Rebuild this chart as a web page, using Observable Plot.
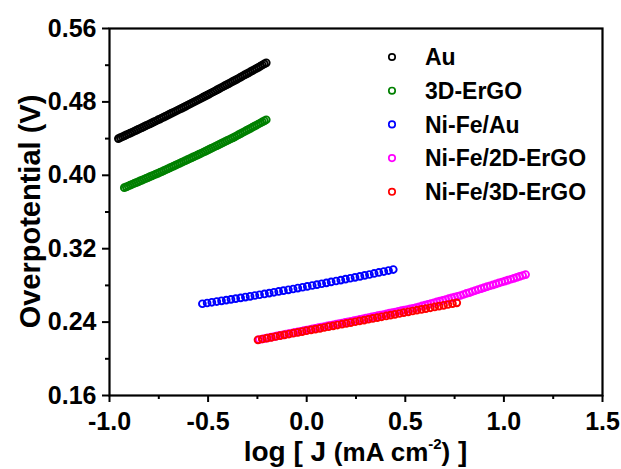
<!DOCTYPE html>
<html>
<head>
<meta charset="utf-8">
<script src="https://cdn.jsdelivr.net/npm/d3@7"></script>
<script src="https://cdn.jsdelivr.net/npm/@observablehq/plot@0.6"></script>
<style>
  html, body { margin: 0; padding: 0; background: #ffffff; }
  #chart { width: 621px; height: 469px; }
  #chart svg { display: block; }
</style>
</head>
<body>
<div id="chart"></div>
<script>
// ---------- data ----------
const seriesNames  = ["Au", "3D-ErGO", "Ni-Fe/Au", "Ni-Fe/2D-ErGO", "Ni-Fe/3D-ErGO"];
const seriesColors = ["#000000", "#008000", "#0000ff", "#ff00ff", "#ff0000"];

const auX = [-0.955,-0.945,-0.935,-0.925,-0.915,-0.905,-0.895,-0.885,-0.875,-0.865,
  -0.855,-0.845,-0.835,-0.825,-0.815,-0.805,-0.795,-0.785,-0.775,-0.765,
  -0.755,-0.745,-0.735,-0.725,-0.715,-0.705,-0.695,-0.685,-0.675,-0.665,
  -0.655,-0.645,-0.635,-0.625,-0.615,-0.605,-0.595,-0.585,-0.575,-0.565,
  -0.555,-0.545,-0.535,-0.525,-0.515,-0.505,-0.495,-0.485,-0.475,-0.465,
  -0.455,-0.445,-0.435,-0.425,-0.415,-0.405,-0.395,-0.385,-0.375,-0.365,
  -0.355,-0.345,-0.335,-0.325,-0.315,-0.305,-0.295,-0.285,-0.275,-0.265,
  -0.255,-0.245,-0.235,-0.225,-0.215,-0.205];
const auY = [0.4400,0.4410,0.4420,0.4430,0.4440,0.4450,0.4459,0.4469,0.4480,0.4490,
  0.4500,0.4510,0.4520,0.4530,0.4541,0.4551,0.4561,0.4571,0.4582,0.4592,
  0.4603,0.4613,0.4624,0.4634,0.4645,0.4655,0.4666,0.4677,0.4687,0.4698,
  0.4709,0.4720,0.4730,0.4741,0.4752,0.4763,0.4774,0.4785,0.4796,0.4807,
  0.4818,0.4829,0.4840,0.4852,0.4863,0.4874,0.4885,0.4897,0.4908,0.4919,
  0.4931,0.4942,0.4954,0.4965,0.4977,0.4988,0.5000,0.5011,0.5023,0.5035,
  0.5046,0.5058,0.5070,0.5082,0.5094,0.5105,0.5117,0.5129,0.5141,0.5153,
  0.5165,0.5177,0.5189,0.5202,0.5214,0.5226];

const ergoX = [-0.925,-0.915,-0.905,-0.895,-0.885,-0.875,-0.865,-0.855,-0.845,-0.835,
  -0.825,-0.815,-0.805,-0.795,-0.785,-0.775,-0.765,-0.755,-0.745,-0.735,
  -0.725,-0.715,-0.705,-0.695,-0.685,-0.675,-0.665,-0.655,-0.645,-0.635,
  -0.625,-0.615,-0.605,-0.595,-0.585,-0.575,-0.565,-0.555,-0.545,-0.535,
  -0.525,-0.515,-0.505,-0.495,-0.485,-0.475,-0.465,-0.455,-0.445,-0.435,
  -0.425,-0.415,-0.405,-0.395,-0.385,-0.375,-0.365,-0.355,-0.345,-0.335,
  -0.325,-0.315,-0.305,-0.295,-0.285,-0.275,-0.265,-0.255,-0.245,-0.235,
  -0.225,-0.215,-0.205];
const ergoY = [0.3865,0.3874,0.3883,0.3893,0.3902,0.3911,0.3920,0.3929,0.3939,0.3948,
  0.3957,0.3966,0.3975,0.3985,0.3994,0.4003,0.4012,0.4021,0.4031,0.4040,
  0.4050,0.4060,0.4070,0.4080,0.4090,0.4100,0.4110,0.4120,0.4130,0.4140,
  0.4150,0.4160,0.4170,0.4180,0.4190,0.4200,0.4210,0.4220,0.4230,0.4240,
  0.4251,0.4261,0.4272,0.4282,0.4293,0.4303,0.4314,0.4324,0.4335,0.4345,
  0.4356,0.4366,0.4377,0.4387,0.4398,0.4408,0.4419,0.4431,0.4443,0.4454,
  0.4466,0.4477,0.4489,0.4501,0.4512,0.4524,0.4535,0.4547,0.4559,0.4570,
  0.4582,0.4594,0.4605];

const nifeAuX = [-0.529,-0.505,-0.481,-0.456,-0.432,-0.408,-0.384,-0.360,-0.335,-0.311,
  -0.287,-0.263,-0.239,-0.214,-0.190,-0.166,-0.142,-0.118,-0.093,-0.069,
  -0.045,-0.021,0.003,0.028,0.052,0.076,0.100,0.124,0.149,0.173,
  0.197,0.221,0.245,0.270,0.294,0.318,0.342,0.366,0.391,0.415,0.439];
const nifeAuY = [0.2600,0.2608,0.2616,0.2624,0.2632,0.2640,0.2648,0.2656,0.2664,0.2673,
  0.2681,0.2690,0.2698,0.2707,0.2716,0.2725,0.2734,0.2743,0.2752,0.2761,
  0.2771,0.2780,0.2789,0.2799,0.2808,0.2818,0.2828,0.2838,0.2848,0.2858,
  0.2868,0.2878,0.2888,0.2898,0.2909,0.2919,0.2930,0.2941,0.2951,0.2962,0.2973];

const nife2dX = [-0.240,-0.225,-0.210,-0.195,-0.180,-0.165,-0.150,-0.135,-0.120,-0.105,
  -0.090,-0.075,-0.060,-0.045,-0.030,-0.015,0.000,0.015,0.030,0.045,
  0.060,0.075,0.090,0.105,0.120,0.135,0.150,0.165,0.180,0.195,
  0.210,0.225,0.240,0.255,0.270,0.285,0.300,0.315,0.330,0.345,
  0.360,0.375,0.390,0.405,0.420,0.435,0.450,0.465,0.480,0.495,
  0.510,0.525,0.540,0.555,0.570,0.585,0.600,0.615,0.630,0.645,
  0.660,0.675,0.690,0.705,0.720,0.735,0.750,0.765,0.780,0.795,
  0.810,0.825,0.840,0.855,0.870,0.885,0.900,0.915,0.930,0.945,
  0.960,0.975,0.990,1.005,1.020,1.035,1.050,1.065,1.080,1.095,1.110];
const nife2dY = [0.2210,0.2216,0.2223,0.2229,0.2236,0.2242,0.2249,0.2255,0.2261,0.2268,
  0.2274,0.2281,0.2287,0.2294,0.2300,0.2306,0.2313,0.2319,0.2326,0.2332,
  0.2339,0.2345,0.2351,0.2358,0.2364,0.2371,0.2377,0.2384,0.2390,0.2396,
  0.2403,0.2409,0.2416,0.2422,0.2429,0.2436,0.2443,0.2449,0.2456,0.2463,
  0.2470,0.2476,0.2483,0.2490,0.2497,0.2503,0.2510,0.2517,0.2524,0.2530,
  0.2537,0.2544,0.2551,0.2558,0.2567,0.2576,0.2584,0.2593,0.2602,0.2611,
  0.2620,0.2628,0.2637,0.2646,0.2655,0.2664,0.2672,0.2681,0.2690,0.2701,
  0.2712,0.2722,0.2733,0.2744,0.2755,0.2765,0.2776,0.2786,0.2796,0.2806,
  0.2816,0.2827,0.2837,0.2847,0.2857,0.2867,0.2877,0.2888,0.2898,0.2908,0.2918];

const nife3dX = [-0.247,-0.225,-0.202,-0.180,-0.157,-0.135,-0.113,-0.090,-0.068,-0.045,
  -0.023,-0.001,0.022,0.044,0.067,0.089,0.111,0.134,0.156,0.179,
  0.201,0.223,0.246,0.268,0.291,0.313,0.335,0.358,0.380,0.403,
  0.425,0.447,0.470,0.492,0.515,0.537,0.559,0.582,0.604,0.627,
  0.649,0.671,0.694,0.716,0.739,0.761];
const nife3dY = [0.2207,0.2216,0.2225,0.2234,0.2243,0.2252,0.2261,0.2270,0.2279,0.2288,
  0.2297,0.2306,0.2315,0.2323,0.2332,0.2341,0.2350,0.2359,0.2368,0.2377,
  0.2386,0.2395,0.2404,0.2413,0.2422,0.2431,0.2440,0.2449,0.2458,0.2467,
  0.2476,0.2485,0.2494,0.2503,0.2512,0.2521,0.2530,0.2539,0.2547,0.2556,
  0.2565,0.2574,0.2583,0.2592,0.2601,0.2610];

const xTicks = [-1.0, -0.5, 0.0, 0.5, 1.0, 1.5];
const xMinorTicks = [-0.75, -0.25, 0.25, 0.75, 1.25];
const yTicks = [0.16, 0.24, 0.32, 0.40, 0.48, 0.56];
const yMinorTicks = [0.20, 0.28, 0.36, 0.44, 0.52];
const yTitle = "Overpotential (V)";
const xTitleParts = ["log [ J ", "(mA cm", "-2", ")", " ]"];

// ---------- build ----------
const seriesXY = [[auX, auY], [ergoX, ergoY], [nifeAuX, nifeAuY], [nife2dX, nife2dY], [nife3dX, nife3dY]];
const rows = seriesXY.map(([xs, ys], k) => xs.map((x, i) => ({x, y: ys[i], s: seriesNames[k]})));

const FONT = "'Liberation Sans', Arial, Helvetica, sans-serif";
const W = 621, H = 469;
const mL = 109, mR = 19, mT = 28, mB = 74;

const chart = Plot.plot({
  width: W, height: H,
  marginLeft: mL, marginRight: mR, marginTop: mT, marginBottom: mB,
  x: {domain: [-1, 1.5]},
  y: {domain: [0.16, 0.56]},
  color: {domain: seriesNames, range: seriesColors},
  style: {fontFamily: FONT, background: "#ffffff", color: "#000000", overflow: "visible"},
  marks: [
    ...rows.map(r => Plot.dot(r, {x: "x", y: "y", stroke: "s", r: 3.4, strokeWidth: 1.9, fill: "none"})),
    Plot.axisX(xMinorTicks, {tickSize: 4, strokeWidth: 2, tickFormat: () => "", label: null}),
    Plot.axisY(yMinorTicks, {tickSize: 4, strokeWidth: 2, tickFormat: () => "", label: null}),
    Plot.axisX(xTicks, {tickSize: 7, tickPadding: 10, strokeWidth: 2, fontSize: 25, fontWeight: "bold",
      tickFormat: d => d.toFixed(1), label: null}),
    Plot.axisY(yTicks, {tickSize: 7, tickPadding: 6, strokeWidth: 2, fontSize: 25, fontWeight: "bold",
      tickFormat: d => d.toFixed(2), label: null}),
    Plot.frame({stroke: "#000000", strokeWidth: 2.2})
  ]
});

document.getElementById("chart").appendChild(chart);

// ---------- titles & legend ----------
const svg = d3.select(chart);
const cx = mL + (W - mL - mR) / 2;
const cy = mT + (H - mT - mB) / 2;

svg.append("text")
  .attr("transform", `translate(40,${cy}) rotate(-90)`)
  .attr("text-anchor", "middle")
  .attr("font-family", FONT).attr("font-weight", "bold").attr("font-size", 29)
  .attr("fill", "#000")
  .text(yTitle);

const xt = svg.append("text")
  .attr("x", cx).attr("y", 461)
  .attr("text-anchor", "middle")
  .attr("font-family", FONT).attr("font-weight", "bold").attr("fill", "#000");
xt.append("tspan").attr("font-size", 28).text(xTitleParts[0]);
xt.append("tspan").attr("font-size", 26).text(xTitleParts[1]);
xt.append("tspan").attr("font-size", 15).attr("dy", -12).text(xTitleParts[2]);
xt.append("tspan").attr("font-size", 26).attr("dy", 12).text(xTitleParts[3]);
xt.append("tspan").attr("font-size", 28).text(xTitleParts[4]);

const leg = svg.append("g")
  .attr("font-family", FONT).attr("font-weight", "bold").attr("font-size", 23)
  .attr("text-anchor", "start");
seriesNames.forEach((name, i) => {
  const yy = 57 + 33.7 * i;
  leg.append("circle").attr("cx", 392).attr("cy", yy).attr("r", 3.2)
    .attr("fill", "none").attr("stroke", seriesColors[i]).attr("stroke-width", 1.7);
  leg.append("text").attr("x", 425).attr("y", yy).attr("dy", "0.36em")
    .attr("text-anchor", "start").attr("fill", "#000").text(name);
});
</script>
</body>
</html>
